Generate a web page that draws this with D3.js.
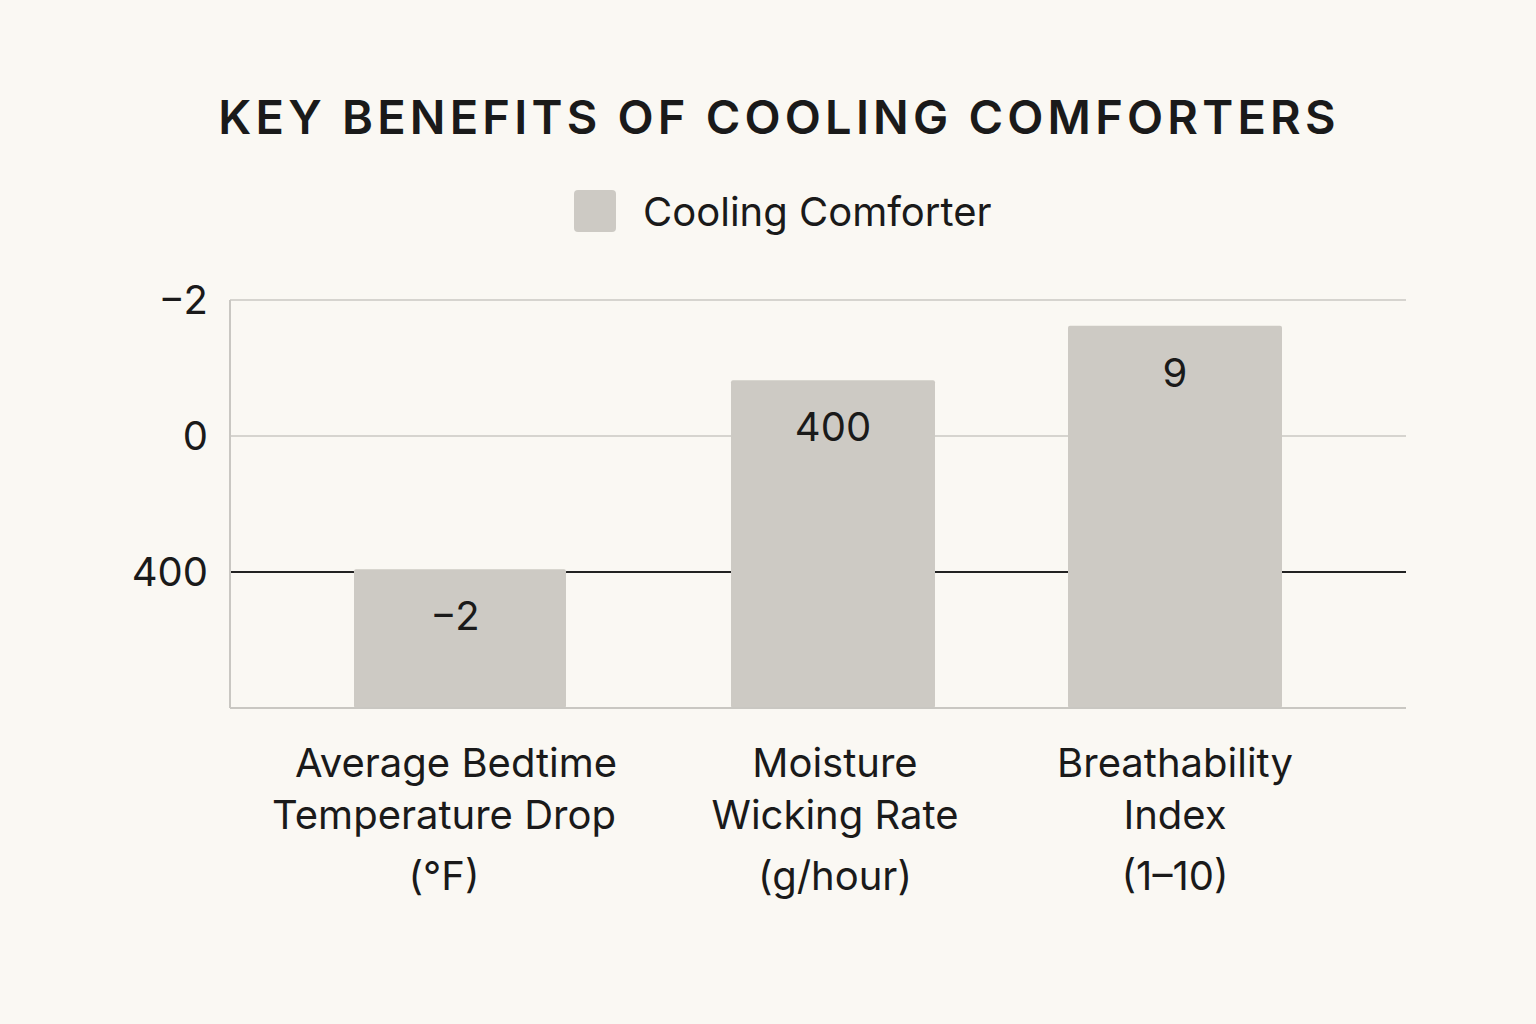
<!DOCTYPE html>
<html>
<head>
<meta charset="utf-8">
<script src="https://cdn.jsdelivr.net/npm/d3@7"></script>
<style>
  body { margin: 0; background: #faf8f3; }
  text { font-family: "Inter", "Noto Sans", sans-serif; fill: #1a1a1a; }
</style>
</head>
<body>
<script>
var width = 1536;
var height = 1024;

// chart data as it appears in the picture
var categories = ["Average Bedtime|Temperature Drop|(°F)", "Moisture|Wicking Rate|(g/hour)", "Breathability|Index|(1–10)"];
var barLevels = [1.02, 2.41, 2.81];        // bar heights in axis steps
var barLabels = ["−2", "400", "9"];
var tickLevels = [1, 2, 3];
var tickLabels = ["400", "0", "−2"];
var barCentres = [460, 833, 1175];
var barWidths = [212, 204, 214];

var svg = d3.select("body").append("svg")
  .attr("width", width).attr("height", height)
  .style("background", "#faf8f3");

var y = d3.scaleLinear().domain([0, 3]).range([708, 300]);

svg.append("text")
  .attr("x", 779).attr("y", 134)
  .attr("text-anchor", "middle")
  .style("font-size", "47px").style("font-weight", "600").style("letter-spacing", "4.2px")
  .text("KEY BENEFITS OF COOLING COMFORTERS");

svg.append("rect").attr("x", 574).attr("y", 190).attr("width", 42).attr("height", 42)
  .attr("rx", 4).attr("fill", "#cdcac4");
svg.append("text").attr("x", 643).attr("y", 226).style("font-size", "40px").text("Cooling Comforter");

// gridlines
svg.selectAll(".grid").data(tickLevels).enter().append("line")
  .attr("x1", 230).attr("x2", 1406)
  .attr("y1", function(d){ return y(d); }).attr("y2", function(d){ return y(d); })
  .attr("stroke", function(d){ return d === 1 ? "#222" : "#d6d4cf"; })
  .attr("stroke-width", 2);

svg.append("line").attr("x1", 230).attr("x2", 230).attr("y1", y(3)).attr("y2", y(0))
  .attr("stroke", "#c9c7c2").attr("stroke-width", 2);

svg.selectAll(".tick").data(tickLevels).enter().append("text")
  .attr("x", 208).attr("y", function(d){ return y(d) + 14; })
  .attr("text-anchor", "end").style("font-size", "40px")
  .text(function(d, i){ return tickLabels[i]; });

svg.selectAll(".bar").data(barLevels).enter().append("rect")
  .attr("x", function(d, i){ return barCentres[i] - barWidths[i] / 2; })
  .attr("width", function(d, i){ return barWidths[i]; })
  .attr("y", function(d){ return y(d); })
  .attr("height", function(d){ return y(0) - y(d); })
  .attr("rx", 2)
  .attr("fill", "#cdcac4");

svg.append("line").attr("x1", 230).attr("x2", 1406).attr("y1", y(0)).attr("y2", y(0))
  .attr("stroke", "#c9c7c2").attr("stroke-width", 2);

svg.selectAll(".val").data(barLevels).enter().append("text")
  .attr("x", function(d, i){ return barCentres[i] - (i === 0 ? 5 : 0); })
  .attr("y", function(d){ return y(d) + 61; })
  .attr("text-anchor", "middle").style("font-size", "40px")
  .text(function(d, i){ return barLabels[i]; });

var lineY = [777, 829, 890];
var catCentres = [444, 835, 1175];
categories.forEach(function(c, i){
  c.split("|").forEach(function(part, j){
    svg.append("text")
      .attr("x", catCentres[i] + (i === 0 && j === 0 ? 12 : 0))
      .attr("y", lineY[j])
      .attr("text-anchor", "middle").style("font-size", "40px")
      .text(part);
  });
});
</script>
</body>
</html>
